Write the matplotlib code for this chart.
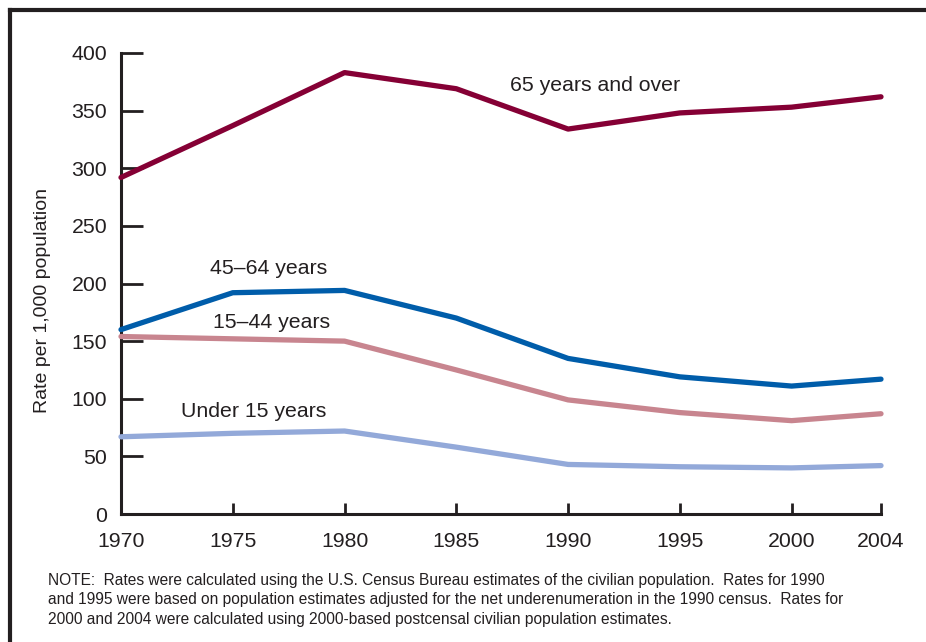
import matplotlib
matplotlib.use('Agg')
import matplotlib.pyplot as plt
from matplotlib.lines import Line2D

plt.rcParams['font.family'] = ['Liberation Sans', 'DejaVu Sans']

# Data
years = [1970, 1975, 1980, 1985, 1990, 1995, 2000, 2004]
over_65 = [292, 337, 383, 369, 334, 348, 353, 362]
age_45_64 = [160, 192, 194, 170, 135, 119, 111, 117]
age_15_44 = [154, 152, 150, 125, 99, 88, 81, 87]
under_15 = [67, 70, 72, 58, 43, 41, 40, 42]

y_ticks = [0, 50, 100, 150, 200, 250, 300, 350, 400]
x_ticks = [1970, 1975, 1980, 1985, 1990, 1995, 2000, 2004]

ink = '#231F20'

fig = plt.figure(figsize=(9.26, 6.42), dpi=100)
ax = fig.add_axes([121/926, 1 - 514/642, (881 - 121)/926, (514 - 53)/642])

series = [
    (over_65, '#850035', '65 years and over', 1987.4, 372),
    (age_45_64, '#005DAA', '45\u201364 years', 1974.0, 213),
    (age_15_44, '#C8858F', '15\u201344 years', 1974.1, 166),
    (under_15, '#93A9D9', 'Under 15 years', 1972.7, 89),
]
for vals, color, label, lx, ly in series:
    ax.plot(years, vals, color=color, linewidth=3.8, solid_capstyle='round',
            solid_joinstyle='round', clip_on=False, zorder=3)
    ax.text(lx, ly, label, fontsize=15.3, color=ink, va='center', ha='left')

ax.set_xlim(1970, 2004)
ax.set_ylim(0, 400)
ax.set_xticks(x_ticks)
ax.set_yticks(y_ticks)
ax.tick_params(axis='y', direction='in', length=16, width=2, color=ink,
               labelsize=15.3, labelcolor=ink, pad=10)
ax.tick_params(axis='x', direction='in', length=8, width=2, color=ink,
               labelsize=15.3, labelcolor=ink, pad=13)
for s in ['top', 'right']:
    ax.spines[s].set_visible(False)
for s in ['left', 'bottom']:
    ax.spines[s].set_linewidth(2.2)
    ax.spines[s].set_color(ink)

fig.text(43/926, 1 - 300/642, 'Rate per 1,000 population', rotation=90,
         fontsize=14, color=ink, ha='center', va='center')

note = ("NOTE:  Rates were calculated using the U.S. Census Bureau estimates of the civilian population.  Rates for 1990\n"
        "and 1995 were based on population estimates adjusted for the net underenumeration in the 1990 census.  Rates for\n"
        "2000 and 2004 were calculated using 2000-based postcensal civilian population estimates.")
fig.text(48/926, 1 - 573/642, note, fontsize=11.2, color=ink, ha='left', va='top',
         linespacing=1.36)

# outer frame (cropped box)
fig.add_artist(Line2D([10/926, 10/926], [0, 1 - 10/642], color=ink, linewidth=3,
                      transform=fig.transFigure))
fig.add_artist(Line2D([10/926, 1], [1 - 10/642, 1 - 10/642], color=ink, linewidth=3,
                      transform=fig.transFigure))

fig.savefig('out.png', dpi=100)
